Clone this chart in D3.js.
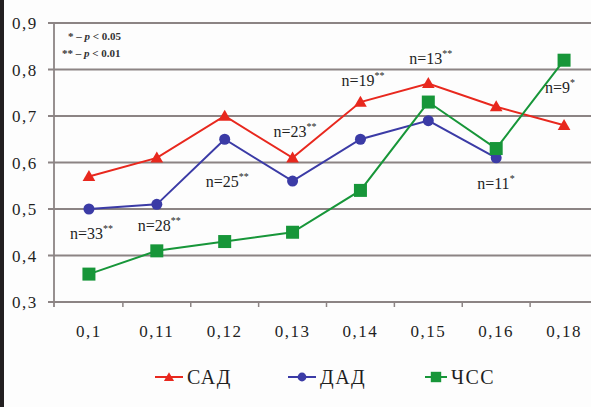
<!DOCTYPE html>
<html><head><meta charset="utf-8">
<script src="https://cdn.jsdelivr.net/npm/d3@7"></script>
<style>
body{margin:0;background:#fff;}
svg{display:block;}
</style></head>
<body>
<svg id="c" width="591" height="407" font-family="'Liberation Serif', 'Times New Roman', Tinos, 'DejaVu Serif', serif"></svg>
<script>
const categories = ["0,1","0,11","0,12","0,13","0,14","0,15","0,16","0,18"];
const sadValues = [0.57,0.61,0.70,0.61,0.73,0.77,0.72,0.68];
const dadValues = [0.50,0.51,0.65,0.56,0.65,0.69,0.61,null];
const hrValues  = [0.36,0.41,0.43,0.45,0.54,0.73,0.63,0.82];
const yTicks = [0.3,0.4,0.5,0.6,0.7,0.8,0.9];
const seriesNames = ["САД","ДАД","ЧСС"];
const annCats = ["0,1","0,11","0,12","0,13","0,14","0,15","0,16","0,18"];
const annLabels = ["n=33","n=28","n=25","n=23","n=19","n=13","n=11","n=9"];
const annStars = ["**","**","**","**","**","**","*","*"];
const annValues = [0.447,0.464,0.558,0.665,0.776,0.822,0.554,0.76];

const svg = d3.select("#c");
svg.append("rect").attr("width",591).attr("height",407).attr("fill","#fdfdfd");
svg.append("rect").attr("x",0).attr("y",0).attr("width",4).attr("height",407).attr("fill","#231f20");

const x = d3.scaleBand().domain(categories).range([55,598]);
const y = d3.scaleLinear().domain([0.3,0.9]).range([302,23]);
const cx = d => x(d)+x.bandwidth()/2;
const ink = "#1f1f1f";

const grid = "#8c8484";
svg.append("g").selectAll("line").data(yTicks).join("line")
  .attr("x1",48).attr("x2",591).attr("y1",d=>y(d)).attr("y2",d=>y(d))
  .attr("stroke",grid).attr("stroke-width",1.8);
svg.append("line").attr("x1",54).attr("x2",54).attr("y1",y(0.9)).attr("y2",307)
  .attr("stroke",grid).attr("stroke-width",1.8);
svg.append("g").selectAll("line").data(categories.slice(1)).join("line")
  .attr("x1",d=>x(d)).attr("x2",d=>x(d)).attr("y1",302).attr("y2",307)
  .attr("stroke",grid).attr("stroke-width",1.5);

const fmt = d3.format(".1f");
svg.append("g").selectAll("text").data(yTicks).join("text")
  .attr("x",12).attr("y",d=>y(d)+6).attr("font-size",17).attr("letter-spacing",1.5)
  .attr("fill",ink).text(d=>fmt(d).replace(".",","));
svg.append("g").selectAll("text").data(categories).join("text")
  .attr("x",d=>cx(d)).attr("y",337).attr("text-anchor","middle").attr("font-size",17)
  .attr("letter-spacing",1.5).attr("fill",ink).text(d=>d);

const colors = ["#e8281e","#3b3ba6","#179639"];
const all = [sadValues,dadValues,hrValues];
const line = d3.line().defined(d=>d.v!=null).x(d=>cx(d.c)).y(d=>y(d.v));
all.forEach((vals,i)=>{
  const pts = vals.map((v,j)=>({c:categories[j],v}));
  svg.append("path").datum(pts).attr("d",line).attr("fill","none")
    .attr("stroke",colors[i]).attr("stroke-width",2);
});
function marker(g,i,px,py,s){
  if(i===0) g.append("path").attr("d",d3.symbol(d3.symbolTriangle,70*s*s)()).attr("transform",`translate(${px},${py+1})`).attr("fill",colors[0]);
  else if(i===1) g.append("circle").attr("cx",px).attr("cy",py).attr("r",5.5*s).attr("fill",colors[1]);
  else g.append("rect").attr("x",px-6.5*s).attr("y",py-6.5*s).attr("width",13*s).attr("height",13*s).attr("fill",colors[2]);
}
const mg = svg.append("g");
all.forEach((vals,i)=>vals.forEach((v,j)=>{ if(v!=null) marker(mg,i,cx(categories[j]),y(v),1); }));

const ag = svg.append("g");
annLabels.forEach((t,k)=>{
  const tx = ag.append("text").attr("x",cx(annCats[k])-19).attr("y",y(annValues[k])+5)
    .attr("font-size",16).attr("fill",ink);
  tx.append("tspan").text(t);
  tx.append("tspan").attr("dy",-7).attr("font-size",10).text(annStars[k]);
});

const nt = svg.append("g").attr("font-size",11).attr("fill","#333").attr("font-weight","bold");
const n1 = nt.append("text").attr("x",68).attr("y",40);
n1.append("tspan").text("* – ");
n1.append("tspan").attr("font-style","italic").text("p");
n1.append("tspan").text(" < 0.05");
const n2 = nt.append("text").attr("x",62).attr("y",57);
n2.append("tspan").text("** – ");
n2.append("tspan").attr("font-style","italic").text("p");
n2.append("tspan").text(" < 0.01");

const legX = [155,288,425];
const lg = svg.append("g");
seriesNames.forEach((s,i)=>{
  const lx = legX[i], ly = 377;
  const w = i===2?22:28;
  lg.append("line").attr("x1",lx).attr("x2",lx+w).attr("y1",ly).attr("y2",ly)
    .attr("stroke",colors[i]).attr("stroke-width",2);
  marker(lg,i,lx+w/2,ly,0.8);
  lg.append("text").attr("x",lx+w+4).attr("y",ly+7).attr("font-size",20)
    .attr("letter-spacing",1.5).attr("fill",ink).text(s);
});
</script>
</body></html>
